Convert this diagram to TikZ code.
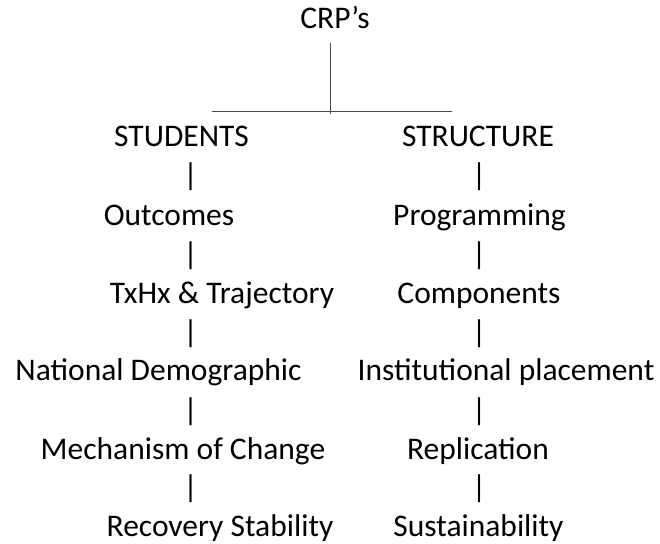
\documentclass[tikz,border=0pt]{standalone}
\usepackage{fontspec}
\setmainfont{Carlito}
\begin{document}
\begin{tikzpicture}[x=1pt,y=-1pt,
  lbl/.style={anchor=base,inner sep=0pt,outer sep=0pt,font=\fontsize{31.5}{38}\selectfont},
  bar/.style={lbl},
  rule/.style={line width=1pt,draw=black!70}]
\useasboundingbox (0,0) rectangle (660,543);
% title
\node[lbl] (crp) at (335,29) {CRP’s};
\coordinate (vtop) at (330.7,42.7);
\coordinate (vbot) at (330.7,114.3);
\coordinate (hl) at (211.7,111);
\coordinate (hr) at (451.7,111);
\draw[rule] (vtop) -- (vbot);
\draw[rule] (hl) -- (hr);
% left column
\node[lbl] (students) at (181.5,146) {STUDENTS};
\node[bar] (lb1) at (190.7,185.5) {|};
\node[lbl] (outcomes) at (169,225.7) {Outcomes};
\node[bar] (lb2) at (190.7,264) {|};
\node[lbl] (txhx) at (222,303) {TxHx \& Trajectory};
\node[bar] (lb3) at (190.7,342) {|};
\node[lbl] (natdem) at (158.5,380.7) {National Demographic};
\node[bar] (lb4) at (190.7,420) {|};
\node[lbl] (mech) at (183,459) {Mechanism of Change};
\node[bar] (lb5) at (190.7,497.5) {|};
\node[lbl] (recov) at (220,536) {Recovery Stability};
% right column
\node[lbl] (structure) at (478,146) {STRUCTURE};
\node[bar] (rb1) at (479,185.5) {|};
\node[lbl] (prog) at (479.5,225.7) {Programming};
\node[bar] (rb2) at (479,264) {|};
\node[lbl] (comp) at (479,303) {Components};
\node[bar] (rb3) at (479,342) {|};
\node[lbl] (inst) at (506,380.7) {Institutional placement};
\node[bar] (rb4) at (479,420) {|};
\node[lbl] (repl) at (478,459) {Replication};
\node[bar] (rb5) at (479,497.5) {|};
\node[lbl] (sust) at (478.5,536) {Sustainability};
\end{tikzpicture}
\end{document}
